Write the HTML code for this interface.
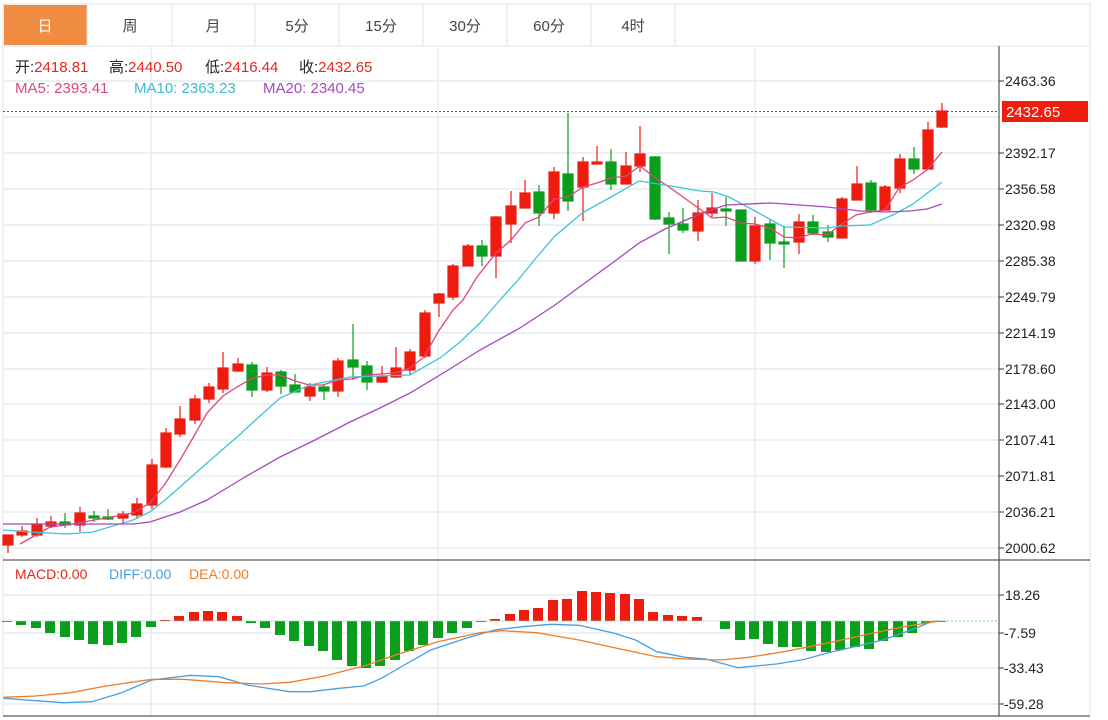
<!DOCTYPE html>
<html><head><meta charset="utf-8"><style>
body{margin:0;background:#fff;width:1108px;height:720px;overflow:hidden;font-family:"Liberation Sans","Noto Sans CJK SC",sans-serif;}
svg{position:absolute;left:0;top:0}
</style></head><body>
<svg width="1108" height="720" xmlns="http://www.w3.org/2000/svg" font-family="Liberation Sans, Noto Sans CJK SC, sans-serif">
<rect x="3" y="4" width="1087" height="42" fill="#fff" stroke="#dde3ea"/>
<rect x="4" y="5" width="83" height="40" fill="#f18c43"/>
<g stroke="#dde3ea"><line x1="87" y1="5" x2="87" y2="46"/><line x1="172" y1="5" x2="172" y2="46"/><line x1="255" y1="5" x2="255" y2="46"/><line x1="339" y1="5" x2="339" y2="46"/><line x1="423" y1="5" x2="423" y2="46"/><line x1="507" y1="5" x2="507" y2="46"/><line x1="591" y1="5" x2="591" y2="46"/><line x1="675" y1="5" x2="675" y2="46"/></g>
<g font-size="15" fill="#444" text-anchor="middle">
<text x="45" y="31" fill="#fff">日</text><text x="130" y="31">周</text><text x="213" y="31">月</text><text x="297" y="31">5分</text><text x="381" y="31">15分</text><text x="465" y="31">30分</text><text x="549" y="31">60分</text><text x="633" y="31">4时</text></g>
<line x1="3" y1="46" x2="3" y2="716" stroke="#dde3ea"/>
<line x1="1090" y1="46" x2="1090" y2="716" stroke="#dde3ea"/>
<g stroke="#e6ecf2" stroke-width="1.5">
<line x1="3" y1="81" x2="999" y2="81"/><line x1="3" y1="117" x2="999" y2="117"/><line x1="3" y1="153" x2="999" y2="153"/><line x1="3" y1="189" x2="999" y2="189"/><line x1="3" y1="225" x2="999" y2="225"/><line x1="3" y1="261" x2="999" y2="261"/><line x1="3" y1="297" x2="999" y2="297"/><line x1="3" y1="333" x2="999" y2="333"/><line x1="3" y1="369" x2="999" y2="369"/><line x1="3" y1="404" x2="999" y2="404"/><line x1="3" y1="440" x2="999" y2="440"/><line x1="3" y1="476" x2="999" y2="476"/><line x1="3" y1="512" x2="999" y2="512"/><line x1="3" y1="548" x2="999" y2="548"/>
<line x1="3" y1="595" x2="999" y2="595"/><line x1="3" y1="633" x2="999" y2="633"/><line x1="3" y1="668" x2="999" y2="668"/><line x1="3" y1="704" x2="999" y2="704"/>
<line x1="151" y1="46" x2="151" y2="716"/><line x1="438" y1="46" x2="438" y2="716"/><line x1="755" y1="46" x2="755" y2="716"/>
</g>
<line x1="999" y1="46" x2="999" y2="716" stroke="#333"/>
<line x1="3" y1="560" x2="1090" y2="560" stroke="#333"/>
<line x1="3" y1="716" x2="1090" y2="716" stroke="#333"/>
<g stroke="#333"><line x1="999" y1="81" x2="1004" y2="81"/><line x1="999" y1="153" x2="1004" y2="153"/><line x1="999" y1="189" x2="1004" y2="189"/><line x1="999" y1="225" x2="1004" y2="225"/><line x1="999" y1="261" x2="1004" y2="261"/><line x1="999" y1="297" x2="1004" y2="297"/><line x1="999" y1="333" x2="1004" y2="333"/><line x1="999" y1="369" x2="1004" y2="369"/><line x1="999" y1="404" x2="1004" y2="404"/><line x1="999" y1="440" x2="1004" y2="440"/><line x1="999" y1="476" x2="1004" y2="476"/><line x1="999" y1="512" x2="1004" y2="512"/><line x1="999" y1="548" x2="1004" y2="548"/><line x1="999" y1="595" x2="1004" y2="595"/><line x1="999" y1="633" x2="1004" y2="633"/><line x1="999" y1="668" x2="1004" y2="668"/><line x1="999" y1="704" x2="1004" y2="704"/></g>
<g font-size="14" fill="#222">
<text x="1005" y="86">2463.36</text><text x="1005" y="158">2392.17</text><text x="1005" y="194">2356.58</text><text x="1005" y="230">2320.98</text><text x="1005" y="266">2285.38</text><text x="1005" y="302">2249.79</text><text x="1005" y="338">2214.19</text><text x="1005" y="374">2178.60</text><text x="1005" y="409">2143.00</text><text x="1005" y="445">2107.41</text><text x="1005" y="481">2071.81</text><text x="1005" y="517">2036.21</text><text x="1005" y="553">2000.62</text>
<text x="1005" y="600">18.26</text><text x="1004" y="638">-7.59</text><text x="1004" y="673">-33.43</text><text x="1004" y="709">-59.28</text>
</g>
<line x1="3" y1="111.5" x2="999" y2="111.5" stroke="#e0281e" stroke-dasharray="2,2"/>
<rect x="1002" y="101" width="86" height="21" fill="#f01e0f"/>
<text x="1006" y="117" font-size="15" fill="#fff">2432.65</text>
<g font-size="15">
<text x="15" y="72" fill="#222">开:<tspan fill="#e0281e">2418.81</tspan></text>
<text x="109" y="72" fill="#222">高:<tspan fill="#e0281e">2440.50</tspan></text>
<text x="205" y="72" fill="#222">低:<tspan fill="#e0281e">2416.44</tspan></text>
<text x="299" y="72" fill="#222">收:<tspan fill="#e0281e">2432.65</tspan></text>
<text x="15" y="93" fill="#e0457b">MA5: 2393.41</text>
<text x="134" y="93" fill="#38bcd4">MA10: 2363.23</text>
<text x="263" y="93" fill="#a648be">MA20: 2340.45</text>
</g>
<g font-size="14"><text x="15" y="579" fill="#e0281e">MACD:0.00</text><text x="109" y="579" fill="#4a9ee0">DIFF:0.00</text><text x="189" y="579" fill="#f07d28">DEA:0.00</text></g>
<g stroke-width="1.2">
<g fill="#ee1c0e" stroke="#ee1c0e">
<line x1="8" y1="535" x2="8" y2="553"/><rect x="3" y="535" width="10" height="10"/>
<line x1="22" y1="526" x2="22" y2="537"/><rect x="17" y="531" width="10" height="4"/>
<line x1="37" y1="518" x2="37" y2="537"/><rect x="32" y="524" width="10" height="11"/>
<line x1="51" y1="516" x2="51" y2="528"/><rect x="46" y="522" width="10" height="4"/>
<line x1="80" y1="507" x2="80" y2="532"/><rect x="75" y="513" width="10" height="12"/>
<line x1="123" y1="511" x2="123" y2="523"/><rect x="118" y="514" width="10" height="4"/>
<line x1="137" y1="498" x2="137" y2="519"/><rect x="132" y="504" width="10" height="11"/>
<line x1="152" y1="459" x2="152" y2="509"/><rect x="147" y="465" width="10" height="40"/>
<line x1="166" y1="428" x2="166" y2="468"/><rect x="161" y="433" width="10" height="34"/>
<line x1="180" y1="406" x2="180" y2="437"/><rect x="175" y="419" width="10" height="15"/>
<line x1="195" y1="395" x2="195" y2="424"/><rect x="190" y="399" width="10" height="21"/>
<line x1="209" y1="383" x2="209" y2="403"/><rect x="204" y="387" width="10" height="12"/>
<line x1="223" y1="352" x2="223" y2="393"/><rect x="218" y="368" width="10" height="21"/>
<line x1="238" y1="358" x2="238" y2="372"/><rect x="233" y="364" width="10" height="7"/>
<line x1="267" y1="367" x2="267" y2="392"/><rect x="262" y="373" width="10" height="17"/>
<line x1="310" y1="383" x2="310" y2="401"/><rect x="305" y="387" width="10" height="9"/>
<line x1="338" y1="358" x2="338" y2="397"/><rect x="333" y="361" width="10" height="30"/>
<line x1="382" y1="366" x2="382" y2="383"/><rect x="377" y="376" width="10" height="6"/>
<line x1="396" y1="347" x2="396" y2="378"/><rect x="391" y="368" width="10" height="9"/>
<line x1="410" y1="349" x2="410" y2="374"/><rect x="405" y="352" width="10" height="18"/>
<line x1="425" y1="310" x2="425" y2="358"/><rect x="420" y="313" width="10" height="43"/>
<line x1="439" y1="293" x2="439" y2="317"/><rect x="434" y="294" width="10" height="9"/>
<line x1="453" y1="264" x2="453" y2="300"/><rect x="448" y="266" width="10" height="31"/>
<line x1="468" y1="244" x2="468" y2="266"/><rect x="463" y="246" width="10" height="20"/>
<line x1="496" y1="216" x2="496" y2="278"/><rect x="491" y="217" width="10" height="39"/>
<line x1="511" y1="191" x2="511" y2="243"/><rect x="506" y="206" width="10" height="18"/>
<line x1="525" y1="180" x2="525" y2="208"/><rect x="520" y="193" width="10" height="15"/>
<line x1="554" y1="167" x2="554" y2="219"/><rect x="549" y="172" width="10" height="41"/>
<line x1="583" y1="157" x2="583" y2="221"/><rect x="578" y="162" width="10" height="25"/>
<line x1="597" y1="146" x2="597" y2="164"/><rect x="592" y="162" width="10" height="2"/>
<line x1="626" y1="152" x2="626" y2="184"/><rect x="621" y="166" width="10" height="18"/>
<line x1="640" y1="126" x2="640" y2="172"/><rect x="635" y="154" width="10" height="12"/>
<line x1="698" y1="200" x2="698" y2="241"/><rect x="693" y="213" width="10" height="18"/>
<line x1="712" y1="193" x2="712" y2="217"/><rect x="707" y="208" width="10" height="5"/>
<line x1="755" y1="217" x2="755" y2="264"/><rect x="750" y="226" width="10" height="35"/>
<line x1="799" y1="214" x2="799" y2="254"/><rect x="794" y="222" width="10" height="20"/>
<line x1="842" y1="197" x2="842" y2="238"/><rect x="837" y="199" width="10" height="39"/>
<line x1="857" y1="166" x2="857" y2="200"/><rect x="852" y="184" width="10" height="16"/>
<line x1="885" y1="185" x2="885" y2="211"/><rect x="880" y="187" width="10" height="23"/>
<line x1="900" y1="154" x2="900" y2="193"/><rect x="895" y="159" width="10" height="29"/>
<line x1="928" y1="122" x2="928" y2="169"/><rect x="923" y="130" width="10" height="39"/>
<line x1="942" y1="103" x2="942" y2="128"/><rect x="937" y="111" width="10" height="16"/>
</g>
<g fill="#0a9e1c" stroke="#0a9e1c">
<line x1="65" y1="513" x2="65" y2="528"/><rect x="60" y="522" width="10" height="3"/>
<line x1="94" y1="511" x2="94" y2="522"/><rect x="89" y="516" width="10" height="2"/>
<line x1="108" y1="509" x2="108" y2="520"/><rect x="103" y="517" width="10" height="2"/>
<line x1="252" y1="362" x2="252" y2="397"/><rect x="247" y="365" width="10" height="25"/>
<line x1="281" y1="370" x2="281" y2="394"/><rect x="276" y="372" width="10" height="14"/>
<line x1="295" y1="374" x2="295" y2="392"/><rect x="290" y="385" width="10" height="7"/>
<line x1="324" y1="384" x2="324" y2="400"/><rect x="319" y="387" width="10" height="4"/>
<line x1="353" y1="324" x2="353" y2="380"/><rect x="348" y="360" width="10" height="7"/>
<line x1="367" y1="361" x2="367" y2="390"/><rect x="362" y="366" width="10" height="16"/>
<line x1="482" y1="240" x2="482" y2="266"/><rect x="477" y="246" width="10" height="10"/>
<line x1="539" y1="185" x2="539" y2="226"/><rect x="534" y="192" width="10" height="21"/>
<line x1="568" y1="113" x2="568" y2="211"/><rect x="563" y="174" width="10" height="27"/>
<line x1="611" y1="149" x2="611" y2="190"/><rect x="606" y="162" width="10" height="22"/>
<line x1="655" y1="156" x2="655" y2="220"/><rect x="650" y="157" width="10" height="62"/>
<line x1="669" y1="212" x2="669" y2="254"/><rect x="664" y="218" width="10" height="6"/>
<line x1="683" y1="208" x2="683" y2="233"/><rect x="678" y="224" width="10" height="6"/>
<line x1="726" y1="197" x2="726" y2="226"/><rect x="721" y="209" width="10" height="2"/>
<line x1="741" y1="210" x2="741" y2="261"/><rect x="736" y="210" width="10" height="51"/>
<line x1="770" y1="220" x2="770" y2="260"/><rect x="765" y="224" width="10" height="19"/>
<line x1="784" y1="226" x2="784" y2="268"/><rect x="779" y="242" width="10" height="2"/>
<line x1="813" y1="215" x2="813" y2="235"/><rect x="808" y="222" width="10" height="11"/>
<line x1="828" y1="225" x2="828" y2="242"/><rect x="823" y="232" width="10" height="5"/>
<line x1="871" y1="180" x2="871" y2="213"/><rect x="866" y="183" width="10" height="27"/>
<line x1="914" y1="147" x2="914" y2="174"/><rect x="909" y="159" width="10" height="10"/>
</g></g>
<g fill="none" stroke-width="1.3">
<polyline stroke="#e0457b" points="20,544 36,535 50,527 67,525 100,519 133,513 150,503 165,484 180,460 194,436 207,413 223,396 237,387 251,379 266,375 280,375 295,381 309,385 323,385 338,380 352,379 367,375 381,374 395,373 410,368 424,357 438,332 453,310 463,300 477,277 496,253 511,240 525,223 539,217 554,199 568,197 583,187 597,183 611,178 626,176 640,166 654,177 669,187 683,197 697,207 712,218 726,217 741,223 755,224 770,228 784,237 798,238 812,234 827,235 842,224 856,215 870,212 885,210 899,188 913,180 927,170 942,152"/>
<polyline stroke="#3cc4d8" points="3,530 30,532 67,534 93,532 133,520 150,512 165,500 180,487 207,463 237,437 260,416 280,398 310,385 350,377 410,375 440,358 460,342 480,323 500,300 518,280 536,258 554,237 582,213 611,197 639,181 671,186 700,191 714,192 729,197 755,211 784,227 827,228 842,226 870,225 895,214 913,204 942,182"/>
<polyline stroke="#a648be" points="3,524 133,524 150,522 180,512 207,500 245,477 280,457 315,440 350,422 380,408 410,393 445,372 480,350 520,328 555,305 589,280 615,261 639,243 665,229 686,220 705,212 726,205 770,203 800,205 827,207 860,211 885,212 910,211 927,209 942,204"/>
</g>
<g fill="#0a9e1c">
<rect x="2" y="621" width="10" height="1"/><rect x="16" y="621" width="10" height="4"/><rect x="31" y="621" width="10" height="7"/><rect x="45" y="621" width="10" height="12"/><rect x="60" y="621" width="10" height="16"/><rect x="74" y="621" width="10" height="19"/><rect x="88" y="621" width="10" height="23"/><rect x="103" y="621" width="10" height="24"/><rect x="117" y="621" width="10" height="22"/><rect x="131" y="621" width="10" height="16"/><rect x="146" y="621" width="10" height="6"/>
<rect x="246" y="621" width="10" height="2"/><rect x="260" y="621" width="10" height="7"/><rect x="275" y="621" width="10" height="14"/><rect x="289" y="621" width="10" height="20"/><rect x="304" y="621" width="10" height="25"/><rect x="318" y="621" width="10" height="30"/><rect x="332" y="621" width="10" height="39"/><rect x="347" y="621" width="10" height="45"/><rect x="361" y="621" width="10" height="47"/><rect x="375" y="621" width="10" height="45"/><rect x="390" y="621" width="10" height="39"/><rect x="404" y="621" width="10" height="30"/><rect x="418" y="621" width="10" height="24"/><rect x="433" y="621" width="10" height="17"/><rect x="447" y="621" width="10" height="12"/><rect x="462" y="621" width="10" height="7"/><rect x="476" y="621" width="10" height="1"/>
<rect x="720" y="621" width="10" height="8"/><rect x="735" y="621" width="10" height="19"/><rect x="749" y="621" width="10" height="18"/><rect x="763" y="621" width="10" height="23"/><rect x="778" y="621" width="10" height="26"/><rect x="792" y="621" width="10" height="26"/><rect x="806" y="621" width="10" height="30"/><rect x="821" y="621" width="10" height="31"/><rect x="835" y="621" width="10" height="29"/><rect x="850" y="621" width="10" height="26"/><rect x="864" y="621" width="10" height="28"/><rect x="878" y="621" width="10" height="20"/><rect x="893" y="621" width="10" height="16"/><rect x="907" y="621" width="10" height="12"/><rect x="921" y="621" width="10" height="2"/><rect x="936" y="621" width="10" height="1"/>
</g>
<g fill="#ee1c0e">
<rect x="160" y="620" width="10" height="1"/><rect x="174" y="616" width="10" height="5"/><rect x="189" y="612" width="10" height="9"/><rect x="203" y="611" width="10" height="10"/><rect x="217" y="612" width="10" height="9"/><rect x="232" y="616" width="10" height="5"/>
<rect x="490" y="619" width="10" height="2"/><rect x="505" y="614" width="10" height="7"/><rect x="519" y="610" width="10" height="11"/><rect x="533" y="608" width="10" height="13"/><rect x="548" y="600" width="10" height="21"/><rect x="562" y="599" width="10" height="22"/><rect x="577" y="591" width="10" height="30"/><rect x="591" y="592" width="10" height="29"/><rect x="605" y="593" width="10" height="28"/><rect x="620" y="594" width="10" height="27"/><rect x="634" y="599" width="10" height="22"/><rect x="648" y="612" width="10" height="9"/><rect x="663" y="615" width="10" height="6"/><rect x="677" y="616" width="10" height="5"/><rect x="692" y="617" width="10" height="4"/>
</g>
<line x1="3" y1="621" x2="939" y2="621" stroke="#9fd8c0" stroke-width="1" opacity="0.6"/>
<line x1="939" y1="621" x2="997" y2="621" stroke="#7cc4e8" stroke-dasharray="2,2"/>
<g fill="none" stroke-width="1.3">
<polyline stroke="#4a9ee0" points="3.5,698.3 63.6,702.7 91.8,701.7 120,693.3 151.8,680 190.7,675.3 219,676.7 247,685 289.5,691.7 310.7,691.7 339,688.3 363.7,686 381.4,678.3 402.5,666 430.8,650 466,638.3 494.4,630 522.6,626.7 550.8,624.3 579,625.3 614.4,633.3 635.6,640 656.8,651.7 685,657.3 706,659 738,667.7 755.6,666 776.8,664 805,659.3 826.3,653.3 854.5,646.7 882.8,640 911,630 932,621.7 939,621"/>
<polyline stroke="#f07d28" points="3.5,697.3 35.3,696 70.6,692.7 106,686 151.8,679.3 183.6,679.3 226,682.7 261.3,684 289.5,682.3 324.9,676 367.2,665 395.5,655 437.9,641.7 480.2,632.7 501.4,630.7 536.7,632.7 579,640 621.5,649.3 656.8,656.7 685,659 720.3,660 748.6,657.3 783.9,651.7 826.3,643.3 868.6,634 904,626.7 939.3,621"/>
</g>
</svg>
</body></html>
